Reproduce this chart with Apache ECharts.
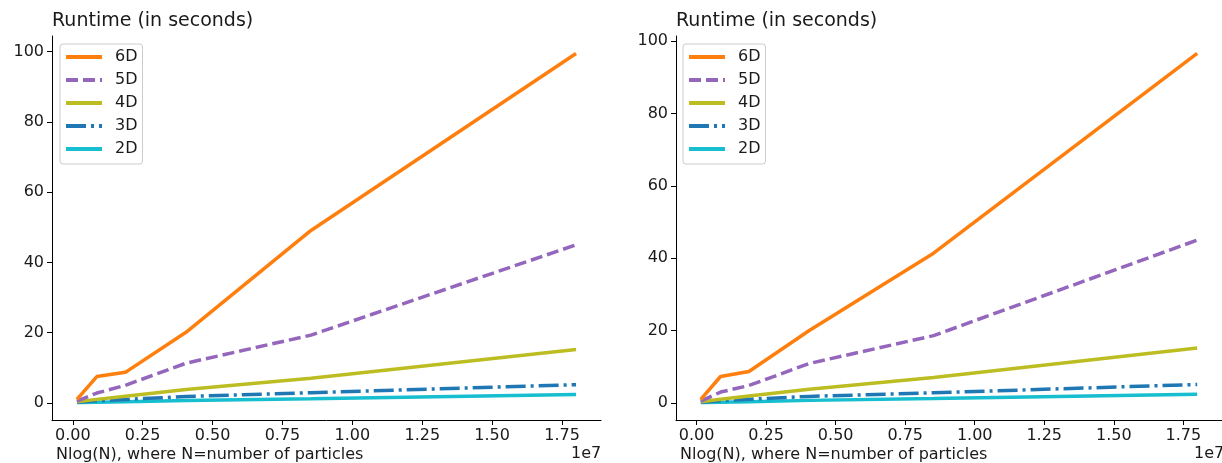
<!DOCTYPE html>
<html>
<head>
<meta charset="utf-8">
<script src="https://cdn.jsdelivr.net/npm/echarts@6/dist/echarts.min.js"></script>
<style>html,body{margin:0;padding:0;background:#fff}#c{width:1222px;height:463px}</style>
</head>
<body>
<div id="c"></div>
<script>
// x values: N log(N)
const xValues = [0.015e7, 0.086e7, 0.188e7, 0.405e7, 0.852e7, 1.8e7];
const seriesNames = ['6D', '5D', '4D', '3D', '2D'];

// Left panel runtimes (seconds)
const left6D = [1.0, 7.5, 8.7, 20.1, 49.1, 99.5];
const left5D = [0.5, 2.8, 5.0, 11.3, 19.3, 45.0];
const left4D = [0.3, 1.0, 1.9, 3.8, 7.0, 15.2];
const left3D = [0.2, 0.6, 1.0, 1.8, 2.9, 5.2];
const left2D = [0.1, 0.2, 0.35, 0.7, 1.2, 2.4];

// Right panel runtimes (seconds)
const right6D = [1.0, 7.3, 8.7, 20.0, 41.4, 96.6];
const right5D = [0.5, 3.0, 4.8, 10.9, 18.6, 45.0];
const right4D = [0.3, 1.0, 1.9, 3.8, 7.0, 15.2];
const right3D = [0.2, 0.6, 1.0, 1.8, 2.8, 5.1];
const right2D = [0.1, 0.2, 0.35, 0.7, 1.2, 2.4];

const xTicks = [0, 0.25e7, 0.5e7, 0.75e7, 1.0e7, 1.25e7, 1.5e7, 1.75e7];
const yTicks = [0, 20, 40, 60, 80, 100];

const colors = {'6D': '#ff7f0e', '5D': '#9467bd', '4D': '#bcbd22', '3D': '#1f77b4', '2D': '#17becf'};
const dashes = {'6D': 'solid', '5D': [12, 5], '4D': 'solid', '3D': [20, 5, 3, 5], '2D': 'solid'};
const FONT = 'DejaVu Sans';

function pad(arr) {
  const lo = Math.min(...arr), hi = Math.max(...arr), r = hi - lo;
  return [lo - 0.05 * r, hi + 0.05 * r];
}
const xr = pad(xValues);
const leftYR = pad([].concat(left6D, left5D, left4D, left3D, left2D));
const rightYR = pad([].concat(right6D, right5D, right4D, right3D, right2D));

const leftData = {'6D': left6D, '5D': left5D, '4D': left4D, '3D': left3D, '2D': left2D};
const rightData = {'6D': right6D, '5D': right5D, '4D': right4D, '3D': right3D, '2D': right2D};

function xAxis(idx) {
  return {
    type: 'value', gridIndex: idx, min: xr[0], max: xr[1],
    axisLine: {show: true, onZero: false, lineStyle: {color: '#000', width: 1}},
    axisTick: {show: true, length: 5, customValues: xTicks, lineStyle: {color: '#000'}},
    axisLabel: {customValues: xTicks, color: '#1a1a1a', fontFamily: FONT, fontSize: 16, margin: 8,
      formatter: v => (v / 1e7).toFixed(2)},
    splitLine: {show: false}
  };
}
function yAxis(idx, r) {
  return {
    type: 'value', gridIndex: idx, min: r[0], max: r[1],
    axisLine: {show: true, onZero: false, lineStyle: {color: '#000', width: 1}},
    axisTick: {show: true, length: 5, customValues: yTicks, lineStyle: {color: '#000'}},
    axisLabel: {customValues: yTicks, color: '#1a1a1a', fontFamily: FONT, fontSize: 16, margin: 8,
      formatter: v => String(Math.round(v))},
    splitLine: {show: false}
  };
}
function makeSeries(idx, data) {
  return seriesNames.map(n => ({
    name: n, type: 'line', xAxisIndex: idx, yAxisIndex: idx,
    data: xValues.map((x, i) => [x, data[n][i]]),
    symbol: 'none', showSymbol: false, animation: false,
    color: colors[n],
    lineStyle: {color: colors[n], width: 3.5, type: dashes[n]},
    z: 10 - seriesNames.indexOf(n)
  }));
}
function legend(left) {
  return {
    orient: 'vertical', left: left, top: 44, data: seriesNames,
    itemWidth: 36, itemHeight: 14, itemGap: 7,
    padding: [5, 5, 7, 4],
    itemStyle: {opacity: 0, borderWidth: 0},
    lineStyle: {width: 4},
    backgroundColor: 'rgba(255,255,255,0.85)', borderColor: '#cccccc', borderWidth: 1, borderRadius: 3,
    textStyle: {fontFamily: FONT, fontSize: 16, lineHeight: 16, color: '#1a1a1a', padding: [0, 0, 0, 8]},
    selectedMode: false
  };
}

const chart = echarts.init(document.getElementById('c'), null, {renderer: 'canvas'});
chart.setOption({
  animation: false,
  backgroundColor: '#fff',
  grid: [
    {left: 52, top: 36, width: 549, height: 384},
    {left: 676, top: 36, width: 548, height: 384}
  ],
  xAxis: [xAxis(0), xAxis(1)],
  yAxis: [yAxis(0, leftYR), yAxis(1, rightYR)],
  legend: [legend(60), legend(683)],
  series: makeSeries(0, leftData).concat(makeSeries(1, rightData)),
  graphic: [
    {type: 'text', left: 52, top: 12, style: {text: 'Runtime (in seconds)', font: '19px "DejaVu Sans"', fill: '#1a1a1a'}},
    {type: 'text', left: 676, top: 12, style: {text: 'Runtime (in seconds)', font: '19px "DejaVu Sans"', fill: '#1a1a1a'}},
    {type: 'text', left: 56, top: 447, style: {text: 'Nlog(N), where N=number of particles', font: '16px "DejaVu Sans"', fill: '#1a1a1a'}},
    {type: 'text', left: 680, top: 447, style: {text: 'Nlog(N), where N=number of particles', font: '16px "DejaVu Sans"', fill: '#1a1a1a'}},
    {type: 'text', left: 571, top: 446, style: {text: '1e7', font: '16px "DejaVu Sans"', fill: '#1a1a1a'}},
    {type: 'text', left: 1194, top: 446, style: {text: '1e7', font: '16px "DejaVu Sans"', fill: '#1a1a1a'}}
  ]
});
</script>
</body>
</html>
